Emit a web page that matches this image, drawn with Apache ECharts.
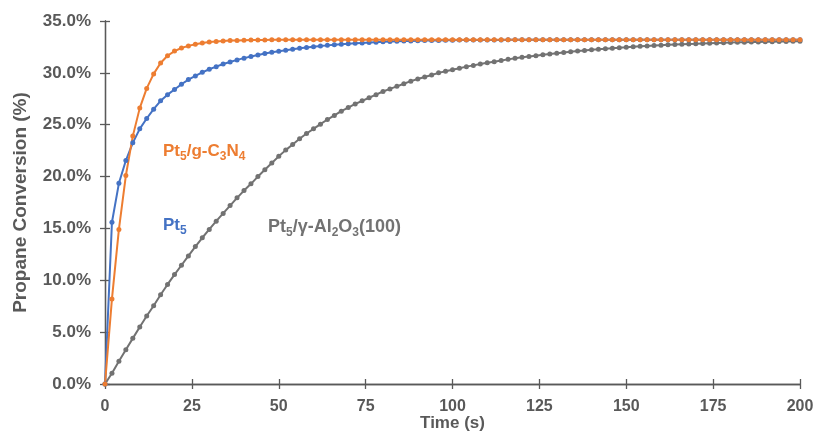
<!DOCTYPE html>
<html>
<head>
<meta charset="utf-8">
<script src="https://cdn.jsdelivr.net/npm/echarts@6/dist/echarts.min.js"></script>
<style>
    html, body {margin: 0; padding: 0; background: #fff;}
    #chart {width: 815px; height: 431px;}
</style>
</head>
<body>
<div id="chart"></div>
<script>
var times = [0, 2, 4, 6, 8, 10, 12, 14, 16, 18, 20, 22, 24, 26, 28, 30, 32, 34, 36, 38,
    40, 42, 44, 46, 48, 50, 52, 54, 56, 58, 60, 62, 64, 66, 68, 70, 72, 74, 76, 78,
    80, 82, 84, 86, 88, 90, 92, 94, 96, 98, 100, 102, 104, 106, 108, 110, 112, 114, 116, 118,
    120, 122, 124, 126, 128, 130, 132, 134, 136, 138, 140, 142, 144, 146, 148, 150, 152, 154, 156, 158,
    160, 162, 164, 166, 168, 170, 172, 174, 176, 178, 180, 182, 184, 186, 188, 190, 192, 194, 196, 198, 200];

// Pt5/g-C3N4 (%)
var gc3n4 = [0, 8.2, 14.9, 20.1, 23.9, 26.6, 28.5, 29.9, 30.95, 31.65,
    32.1, 32.4, 32.6, 32.75, 32.88, 32.97, 33.03, 33.08, 33.11, 33.13,
    33.15, 33.16, 33.17, 33.18, 33.19, 33.2, 33.2, 33.2, 33.2, 33.2,
    33.2, 33.2, 33.2, 33.2, 33.2, 33.2, 33.2, 33.2, 33.2, 33.2,
    33.2, 33.2, 33.2, 33.2, 33.2, 33.2, 33.2, 33.2, 33.2, 33.2,
    33.2, 33.2, 33.2, 33.2, 33.2, 33.2, 33.2, 33.2, 33.2, 33.2,
    33.2, 33.2, 33.2, 33.2, 33.2, 33.2, 33.2, 33.2, 33.2, 33.2,
    33.2, 33.2, 33.2, 33.2, 33.2, 33.2, 33.2, 33.2, 33.2, 33.2,
    33.2, 33.2, 33.2, 33.2, 33.2, 33.2, 33.2, 33.2, 33.2, 33.2,
    33.2, 33.2, 33.2, 33.2, 33.2, 33.2, 33.2, 33.2, 33.2, 33.2, 33.2];

// Pt5 (%)
var pt5 = [0, 15.6, 19.35, 21.55, 23.25, 24.6, 25.6, 26.5, 27.3, 27.9,
    28.4, 28.9, 29.35, 29.7, 30.05, 30.35, 30.6, 30.85, 31.05, 31.25,
    31.42, 31.58, 31.73, 31.86, 31.98, 32.09, 32.19, 32.28, 32.37, 32.45,
    32.52, 32.59, 32.65, 32.71, 32.76, 32.81, 32.85, 32.89, 32.93, 32.96,
    32.99, 33.02, 33.04, 33.06, 33.08, 33.1, 33.11, 33.12, 33.13, 33.14,
    33.15, 33.16, 33.16, 33.17, 33.17, 33.18, 33.18, 33.18, 33.19, 33.19,
    33.19, 33.2, 33.2, 33.2, 33.2, 33.2, 33.2, 33.2, 33.2, 33.2,
    33.2, 33.2, 33.2, 33.2, 33.2, 33.2, 33.2, 33.2, 33.2, 33.2,
    33.2, 33.2, 33.2, 33.2, 33.2, 33.2, 33.2, 33.2, 33.2, 33.2,
    33.2, 33.2, 33.2, 33.2, 33.2, 33.2, 33.2, 33.2, 33.2, 33.2, 33.2];

// Pt5/γ-Al2O3(100) (%)
var al2o3 = [0, 1.03, 2.2, 3.3, 4.4, 5.5, 6.55, 7.55, 8.6, 9.6,
    10.55, 11.45, 12.35, 13.25, 14.1, 14.9, 15.7, 16.45, 17.2, 17.95,
    18.65, 19.3, 20.0, 20.65, 21.3, 21.95, 22.55, 23.1, 23.65, 24.15,
    24.6, 25.05, 25.5, 25.9, 26.3, 26.65, 27.0, 27.3, 27.6, 27.9,
    28.2, 28.45, 28.7, 28.95, 29.2, 29.4, 29.6, 29.8, 30.0, 30.15,
    30.3, 30.45, 30.6, 30.72, 30.85, 30.97, 31.08, 31.19, 31.3, 31.4,
    31.5, 31.58, 31.66, 31.74, 31.82, 31.89, 31.96, 32.03, 32.1, 32.16,
    32.22, 32.28, 32.33, 32.38, 32.43, 32.48, 32.52, 32.56, 32.6, 32.64,
    32.67, 32.7, 32.73, 32.76, 32.79, 32.81, 32.84, 32.86, 32.88, 32.9,
    32.92, 32.94, 32.95, 32.97, 32.98, 33.0, 33.01, 33.02, 33.03, 33.04, 33.05];

var xTicks = [0, 25, 50, 75, 100, 125, 150, 175, 200];

var ORANGE = '#ED7D31', BLUE = '#4472C4', GRAY = '#727272', AXIS = '#595959';
var FONT = '"Liberation Sans", Arial, sans-serif';

function pairs(arr) {
    var out = [];
    for (var i = 0; i < arr.length; i++) {
        out.push([times[i], arr[i]]);
    }
    return out;
}

function lineSeries(name, arr, color) {
    return {
        name: name,
        type: 'line',
        data: pairs(arr),
        symbol: 'circle',
        symbolSize: 5,
        lineStyle: {color: color, width: 2},
        itemStyle: {color: color},
        animation: false
    };
}

function richStyle(color, size) {
    return {
        a: {fontSize: size, fontWeight: 'bold', fontFamily: FONT, fill: color, color: color, lineHeight: 22, verticalAlign: 'bottom'},
        s: {fontSize: 12, fontWeight: 'bold', fontFamily: FONT, fill: color, color: color, lineHeight: 22, verticalAlign: 'bottom', padding: [0, 0, -3, 0]}
    };
}

var myChart = echarts.init(document.getElementById('chart'));

var axisCommon = {
    type: 'value',
    axisLine: {show: true, lineStyle: {color: AXIS, width: 1.3}},
    splitLine: {show: false}
};

var option = {
    backgroundColor: '#fff',
    animation: false,
    grid: {left: 105, right: 15, top: 21, bottom: 47, containLabel: false, outerBoundsMode: 'none'},
    xAxis: [
        Object.assign({}, axisCommon, {
            min: 0, max: 200, interval: 25,
            name: 'Time (s)',
            nameLocation: 'middle',
            nameGap: 31,
            nameMoveOverlap: false,
            nameTextStyle: {color: AXIS, fontSize: 17, fontWeight: 'bold', fontFamily: FONT},
            axisTick: {show: true, length: 5, inside: false, lineStyle: {color: AXIS, width: 1.3}},
            axisLabel: {color: AXIS, fontSize: 16, fontWeight: 'bold', fontFamily: FONT, margin: 15,
                formatter: function (v) { return xTicks.indexOf(v) >= 0 ? String(v) : ''; }}
        }),
        Object.assign({}, axisCommon, {
            min: 0, max: 200, interval: 25, position: 'bottom',
            axisTick: {show: true, length: 5, inside: true, lineStyle: {color: AXIS, width: 1.3}},
            axisLabel: {show: false}
        })
    ],
    yAxis: [
        Object.assign({}, axisCommon, {
            min: 0, max: 35, interval: 5,
            name: 'Propane Conversion (%)',
            nameLocation: 'middle',
            nameGap: 75,
            nameMoveOverlap: false,
            nameRotate: 90,
            nameTextStyle: {color: AXIS, fontSize: 19, fontWeight: 'bold', fontFamily: FONT},
            axisTick: {show: true, length: 5, inside: false, lineStyle: {color: AXIS, width: 1.3}},
            axisLabel: {color: AXIS, fontSize: 17, fontWeight: 'bold', fontFamily: FONT, margin: 14,
                formatter: function (v) { return v.toFixed(1) + '%'; }}
        }),
        Object.assign({}, axisCommon, {
            min: 0, max: 35, interval: 5, position: 'left',
            axisTick: {show: true, length: 5, inside: true, lineStyle: {color: AXIS, width: 1.3}},
            axisLabel: {show: false}
        })
    ],
    series: [
        lineSeries('Pt5/γ-Al2O3(100)', al2o3, GRAY),
        lineSeries('Pt5', pt5, BLUE),
        lineSeries('Pt5/g-C3N4', gc3n4, ORANGE)
    ],
    graphic: [
        {
            type: 'text', left: 163, top: 143,
            style: {text: '{a|Pt}{s|5}{a|/g-C}{s|3}{a|N}{s|4}', fill: ORANGE, rich: richStyle(ORANGE, 17)}
        },
        {
            type: 'text', left: 163, top: 217,
            style: {text: '{a|Pt}{s|5}', fill: BLUE, rich: richStyle(BLUE, 17)}
        },
        {
            type: 'text', left: 268, top: 218,
            style: {text: '{a|Pt}{s|5}{a|/γ-Al}{s|2}{a|O}{s|3}{a|(100)}', fill: GRAY, rich: richStyle(GRAY, 18)}
        }
    ]
};

myChart.setOption(option);
</script>
</body>
</html>
